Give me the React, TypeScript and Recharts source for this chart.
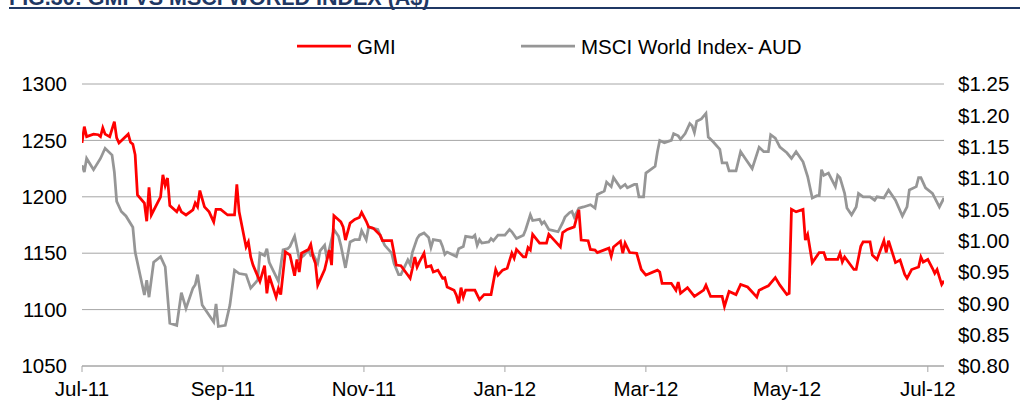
import { LineChart, Line, XAxis, YAxis, CartesianGrid } from 'recharts';

// x = trading-day offset from 1 Jul 2011
const tickDays = [0, 61, 122, 183, 244, 305, 366];
const tickLabels = ['Jul-11', 'Sep-11', 'Nov-11', 'Jan-12', 'Mar-12', 'May-12', 'Jul-12'];
const leftTicks = [1050, 1100, 1150, 1200, 1250, 1300];
const rightTicks = [0.8, 0.85, 0.9, 0.95, 1.0, 1.05, 1.1, 1.15, 1.2, 1.25];

// GMI share price (A$), right axis
const gmiDays = [
  0, 1, 2, 5, 7, 8, 9, 10, 12, 14, 15, 16, 20, 21, 22, 23, 24, 27, 28, 29, 30, 34, 35, 36, 37, 38,
  41, 42, 43, 45, 48, 49, 50, 51, 53, 55, 57, 58, 60, 63, 66, 67, 68, 71, 72, 73, 74, 77, 79, 80,
  81, 84, 85, 86, 88, 90, 92, 93, 94, 95, 98, 99, 100, 101, 102, 105, 107, 108, 109, 112, 113, 114,
  116, 118, 120, 121, 123, 124, 126, 129, 130, 134, 136, 138, 140, 142, 143, 144, 145, 146, 148,
  149, 151, 152, 154, 156, 157, 158, 161, 162, 163, 164, 165, 166, 170, 172, 174, 177, 179, 180,
  182, 184, 186, 187, 188, 191, 192, 193, 194, 195, 198, 201, 202, 205, 207, 208, 210, 213, 214,
  215, 216, 219, 220, 222, 223, 228, 229, 230, 233, 234, 235, 237, 240, 242, 244, 249, 250, 251,
  255, 257, 258, 259, 262, 265, 269, 270, 272, 277, 278, 280, 283, 285, 288, 290, 292, 293, 297,
  300, 302, 305, 306, 307, 309, 312, 313, 314, 316, 319, 321, 322, 327, 328, 329, 330, 334, 335,
  337, 338, 341, 342, 344, 347, 348, 349, 352, 354, 356, 357, 359, 362, 363, 364, 366, 368, 369,
  370, 372, 373,
];
const gmiPrice = [
  1.156, 1.182, 1.166, 1.17, 1.169, 1.166, 1.18, 1.17, 1.166, 1.19, 1.164, 1.156, 1.17, 1.157,
  1.154, 1.137, 1.073, 1.06, 1.031, 1.085, 1.041, 1.07, 1.105, 1.088, 1.1, 1.056, 1.046, 1.054,
  1.046, 1.041, 1.049, 1.06, 1.054, 1.08, 1.054, 1.046, 1.03, 1.05, 1.05, 1.041, 1.041, 1.09,
  1.046, 0.99, 0.998, 0.974, 0.961, 0.935, 0.96, 0.916, 0.944, 0.91, 0.924, 0.914, 0.982, 0.977,
  0.944, 0.97, 0.95, 0.98, 0.986, 0.994, 0.974, 0.964, 0.929, 0.954, 0.985, 0.961, 1.04, 1.03,
  1.022, 1.001, 1.028, 1.034, 1.037, 1.045, 1.031, 1.022, 1.02, 1.009, 1.0, 1.0, 0.961, 0.96,
  0.95, 0.94, 0.956, 0.974, 0.958, 0.966, 0.98, 0.958, 0.96, 0.95, 0.953, 0.94, 0.941, 0.926,
  0.921, 0.913, 0.9, 0.925, 0.91, 0.921, 0.921, 0.906, 0.914, 0.914, 0.954, 0.945, 0.953, 0.956,
  0.98, 0.972, 0.986, 0.974, 0.974, 0.989, 0.985, 1.01, 0.996, 0.996, 1.01, 0.998, 0.99, 1.013,
  1.018, 1.022, 1.036, 1.049, 1.001, 1.0, 0.986, 0.985, 0.981, 0.988, 0.975, 0.99, 0.999, 0.98,
  0.996, 0.981, 0.98, 0.954, 0.945, 0.953, 0.95, 0.932, 0.932, 0.921, 0.934, 0.916, 0.925,
  0.911, 0.921, 0.929, 0.911, 0.911, 0.895, 0.919, 0.914, 0.93, 0.926, 0.918, 0.91, 0.921,
  0.928, 0.941, 0.929, 0.914, 0.916, 1.05, 1.046, 1.05, 1.001, 1.01, 0.965, 0.981, 0.981, 0.97,
  0.97, 0.98, 0.966, 0.974, 0.954, 0.954, 0.991, 0.998, 0.998, 0.977, 0.97, 1.0, 0.981, 1.0,
  0.965, 0.969, 0.946, 0.94, 0.954, 0.958, 0.974, 0.966, 0.97, 0.956, 0.948, 0.954, 0.93, 0.936,
];

// MSCI World Index in AUD, left axis
const msciDays = [
  0, 1, 2, 5, 8, 10, 13, 14, 15, 17, 19, 22, 23, 27, 28, 29, 31, 34, 36, 38, 41, 43, 45, 48, 49,
  50, 52, 57, 58, 59, 62, 64, 66, 68, 71, 73, 76, 77, 79, 80, 81, 85, 87, 89, 90, 92, 94, 96, 98,
  99, 100, 102, 103, 105, 106, 109, 111, 112, 114, 116, 118, 120, 121, 123, 124, 126, 128, 129,
  131, 134, 135, 137, 138, 141, 142, 143, 145, 146, 148, 150, 151, 152, 155, 156, 157, 158, 162,
  163, 165, 166, 169, 170, 171, 172, 173, 176, 177, 178, 180, 183, 185, 186, 188, 191, 192, 194,
  195, 198, 199, 200, 202, 204, 206, 208, 209, 211, 212, 213, 215, 217, 220, 222, 223, 226, 227,
  229, 230, 233, 235, 236, 239, 240, 241, 243, 244, 248, 249, 250, 252, 255, 256, 258, 259, 261,
  263, 264, 265, 266, 268, 270, 271, 273, 276, 277, 279, 280, 283, 285, 287, 290, 293, 295, 297,
  298, 300, 302, 305, 307, 309, 312, 314, 316, 318, 319, 320, 321, 323, 326, 327, 328, 330, 331,
  333, 335, 336, 338, 341, 343, 344, 347, 349, 352, 355, 357, 358, 361, 362, 363, 365, 368, 369,
  371, 373,
];
const msciIndex = [
  1228, 1222, 1234, 1224, 1234, 1243, 1237, 1222, 1196, 1187, 1183, 1173, 1151, 1113, 1126, 1111,
  1142, 1147, 1138, 1088, 1086, 1115, 1101, 1119, 1122, 1131, 1104, 1089, 1105, 1085, 1086, 1104,
  1135, 1132, 1131, 1119, 1126, 1150, 1148, 1154, 1142, 1125, 1153, 1154, 1156, 1165, 1145, 1148,
  1153, 1148, 1149, 1141, 1152, 1157, 1145, 1171, 1165, 1157, 1137, 1160, 1162, 1162, 1170, 1162,
  1173, 1172, 1171, 1166, 1157, 1150, 1141, 1131, 1131, 1144, 1140, 1151, 1163, 1166, 1168, 1164,
  1155, 1162, 1161, 1156, 1149, 1151, 1147, 1154, 1156, 1165, 1164, 1166, 1157, 1162, 1159, 1160,
  1163, 1161, 1166, 1166, 1171, 1169, 1163, 1166, 1171, 1184, 1179, 1180, 1176, 1178, 1171, 1170,
  1169, 1177, 1182, 1186, 1187, 1182, 1190, 1191, 1193, 1190, 1202, 1205, 1213, 1209, 1217, 1208,
  1211, 1208, 1211, 1211, 1200, 1200, 1221, 1227, 1240, 1250, 1248, 1250, 1256, 1254, 1251, 1256,
  1265, 1263, 1257, 1267, 1269, 1274, 1253, 1249, 1242, 1230, 1230, 1223, 1223, 1240, 1234, 1225,
  1244, 1240, 1240, 1255, 1252, 1244, 1239, 1234, 1240, 1231, 1218, 1199, 1201, 1201, 1224, 1219,
  1221, 1209, 1219, 1217, 1203, 1190, 1184, 1191, 1203, 1200, 1200, 1197, 1200, 1199, 1206, 1197,
  1183, 1191, 1206, 1209, 1217, 1217, 1208, 1203, 1199, 1191, 1199,
];

const gmiData = gmiDays.map((day, i) => ({ day, gmi: gmiPrice[i] }));
const msciData = msciDays.map((day, i) => ({ day, msci: msciIndex[i] }));

const legendItems = [
  { name: 'GMI', color: '#FF0000', x: 297 },
  { name: 'MSCI World Index- AUD', color: '#969696', x: 521 },
];

const FONT = '"Liberation Sans", Arial, sans-serif';
const GRID = '#A6A6A6';
const FS = 20.5;

export default function App() {
  const tick = { fill: '#000', fontSize: FS };
  return (
    <div
      style={{
        position: 'absolute',
        left: 0,
        top: 0,
        width: 1020,
        height: 410,
        background: '#fff',
        fontFamily: FONT,
      }}
    >
      <LineChart width={1020} height={410} margin={{ top: 84, right: 0, bottom: 0, left: 0 }}>
        <CartesianGrid vertical={false} stroke={GRID} yAxisId="left" />
        <XAxis
          dataKey="day"
          type="number"
          domain={[0, 373]}
          ticks={tickDays}
          interval={0}
          tickFormatter={(v: number) => tickLabels[tickDays.indexOf(v)]}
          axisLine={{ stroke: GRID }}
          tickLine={{ stroke: GRID }}
          tickSize={6}
          tickMargin={9}
          height={44}
          tick={tick}
          allowDataOverflow
        />
        <YAxis
          yAxisId="left"
          domain={[1050, 1300]}
          ticks={leftTicks}
          interval={0}
          axisLine={false}
          tickLine={false}
          tickSize={0}
          tickMargin={15}
          width={82}
          tick={tick}
        />
        <YAxis
          yAxisId="right"
          orientation="right"
          domain={[0.8, 1.25]}
          ticks={rightTicks}
          interval={0}
          tickFormatter={(v: number) => '$' + v.toFixed(2)}
          axisLine={false}
          tickLine={false}
          tickSize={0}
          tickMargin={14}
          width={76}
          tick={tick}
        />
        <Line
          yAxisId="left"
          data={msciData}
          dataKey="msci"
          type="linear"
          dot={false}
          stroke="#969696"
          strokeWidth={2.75}
          isAnimationActive={false}
        />
        <Line
          yAxisId="right"
          data={gmiData}
          dataKey="gmi"
          type="linear"
          dot={false}
          stroke="#FF0000"
          strokeWidth={2.75}
          isAnimationActive={false}
        />
      </LineChart>

      {/* title (cut off at the top in the source) + legend */}
      <svg
        width={1020}
        height={70}
        style={{ position: 'absolute', left: 0, top: 0, pointerEvents: 'none' }}
      >
        <text x={9} y={5} fontSize={21.5} fontWeight="bold" fill="#1F3864" fontFamily={FONT}>
          FIG.30: GMI VS MSCI WORLD INDEX (A$)
        </text>
        <rect x={9} y={7} width={1011} height={2} fill="#1F3864" />
        {legendItems.map((it) => (
          <g key={it.name}>
            <line x1={it.x} x2={it.x + 54} y1={46} y2={46} stroke={it.color} strokeWidth={2.75} />
            <text x={it.x + 60} y={53.5} fontSize={FS} fill="#000" fontFamily={FONT}>
              {it.name}
            </text>
          </g>
        ))}
      </svg>
    </div>
  );
}
